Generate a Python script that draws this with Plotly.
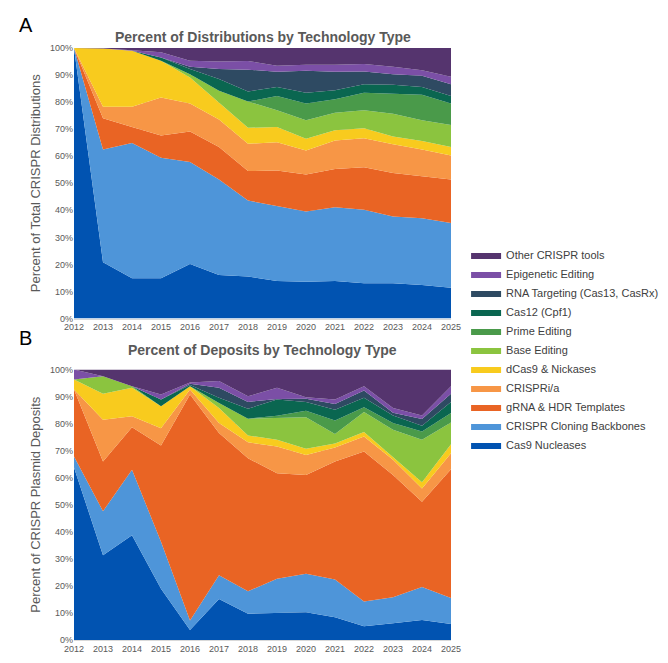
import plotly.graph_objects as go
from plotly.subplots import make_subplots

years = list(range(2012, 2026))

series = ["Cas9 Nucleases", "CRISPR Cloning Backbones", "gRNA & HDR Templates", "CRISPRi/a",
          "dCas9 & Nickases", "Base Editing", "Prime Editing", "Cas12 (Cpf1)",
          "RNA Targeting (Cas13, CasRx)", "Epigenetic Editing", "Other CRISPR tools"]
colors = ["#0153B1", "#4E95D9", "#E96424", "#F79646", "#F8CB1E", "#8BC43F",
          "#4A9A4A", "#0A6650", "#2E4A62", "#7B4FA6", "#55346E"]

# Percent of distributions (chart A)
dist_cas9 = [100, 20.8, 14.9, 14.9, 20.2, 16.1, 15.5, 13.9, 13.6, 13.9, 13.0, 13.0, 12.4, 11.4]
dist_backbone = [0, 41.7, 50.0, 44.5, 37.7, 35.3, 28.1, 27.8, 26.0, 27.2, 27.2, 24.7, 24.7, 23.9]
dist_grna = [0, 11.5, 5.9, 8.3, 11.2, 12.0, 10.9, 13.0, 13.6, 14.2, 15.7, 16.1, 15.5, 16.1]
dist_crispri = [0, 4.3, 7.5, 14.0, 10.4, 10.2, 10.1, 10.5, 8.9, 10.5, 10.7, 10.6, 9.9, 8.9]
dist_dcas9 = [0, 21.5, 20.7, 13.6, 9.6, 6.2, 5.9, 5.6, 4.4, 3.8, 3.7, 2.9, 3.1, 3.1]
dist_base = [0, 0, 0, 0, 1.2, 4.4, 9.7, 6.2, 6.8, 6.5, 6.7, 8.4, 7.7, 8.1]
dist_prime = [0, 0, 0, 0, 0, 0, 0, 5.3, 6.2, 5.0, 6.5, 7.5, 9.4, 8.0]
dist_cas12 = [0, 0, 0, 1.2, 1.9, 4.3, 3.7, 3.3, 4.0, 3.3, 3.1, 3.2, 2.9, 2.8]
dist_rna = [0, 0, 0, 0, 0.9, 3.7, 8.1, 5.6, 8.1, 6.8, 4.7, 3.9, 4.1, 4.3]
dist_epi = [0, 0, 0.2, 1.9, 2.2, 2.8, 3.2, 2.2, 2.2, 2.6, 2.8, 2.8, 2.1, 2.8]
dist_other = [0, 0.2, 0.8, 1.6, 4.7, 5.0, 4.8, 6.6, 6.2, 6.2, 5.9, 6.9, 8.2, 10.6]

# Percent of deposits (chart B)
dep_cas9 = [63.8, 31.3, 38.7, 18.9, 3.7, 15.2, 9.7, 9.9, 10.3, 8.4, 5.1, 6.2, 7.4, 5.9]
dep_backbone = [4.0, 16.3, 24.2, 17.4, 3.5, 8.7, 8.3, 12.7, 14.2, 14.0, 9.1, 9.6, 12.2, 9.6]
dep_grna = [24.8, 18.4, 15.7, 35.6, 83.5, 52.6, 49.2, 39.0, 36.5, 43.6, 55.5, 45.2, 31.5, 47.6]
dep_crispri = [0, 15.4, 4.1, 6.4, 1.9, 3.7, 5.9, 9.9, 7.4, 5.2, 5.5, 5.6, 4.9, 5.9]
dep_dcas9 = [3.7, 9.6, 10.5, 8.1, 1.2, 5.6, 2.5, 2.5, 2.3, 1.4, 1.7, 0.9, 2.3, 3.4]
dep_base = [0, 6.5, 0.6, 0, 0, 1.8, 6.2, 8.1, 11.6, 3.5, 7.4, 10.2, 15.7, 8.0]
dep_prime = [0, 0, 0, 0, 0, 0, 0, 0.8, 2.4, 5.0, 1.7, 2.5, 3.1, 3.5]
dep_cas12 = [0, 0, 0, 2.5, 0.5, 1.9, 3.7, 6.0, 3.3, 4.0, 3.5, 2.8, 2.1, 4.1]
dep_rna = [0, 0, 0, 0, 0.4, 3.7, 2.5, 0.2, 1.2, 2.1, 2.7, 1.0, 2.5, 3.0]
dep_epi = [3.7, 0, 0, 1.8, 0.5, 2.5, 2.1, 4.1, 0.5, 1.7, 1.6, 1.8, 1.3, 2.8]
dep_other = [0, 2.5, 6.2, 9.3, 4.8, 4.3, 9.9, 6.8, 10.3, 11.1, 6.2, 14.2, 17.0, 6.2]

dist = [dist_cas9, dist_backbone, dist_grna, dist_crispri, dist_dcas9, dist_base,
        dist_prime, dist_cas12, dist_rna, dist_epi, dist_other]
dep = [dep_cas9, dep_backbone, dep_grna, dep_crispri, dep_dcas9, dep_base,
       dep_prime, dep_cas12, dep_rna, dep_epi, dep_other]

fig = make_subplots(rows=2, cols=1, vertical_spacing=0.086)

for i, name in enumerate(series):
    fig.add_trace(go.Scatter(x=years, y=dist[i], name=name, stackgroup="a", mode="lines",
                             line=dict(width=0, color=colors[i]), fillcolor=colors[i],
                             legendgroup=name), row=1, col=1)
    fig.add_trace(go.Scatter(x=years, y=dep[i], name=name, stackgroup="b", mode="lines",
                             line=dict(width=0, color=colors[i]), fillcolor=colors[i],
                             legendgroup=name, showlegend=False), row=2, col=1)

axis_font = dict(size=9, color="#595959")
fig.update_xaxes(tickvals=years, range=[2012, 2025], showgrid=False, tickfont=axis_font,
                 showline=True, linecolor="#d9d9d9")
fig.update_yaxes(range=[0, 100], dtick=10, ticksuffix="%", gridcolor="#d9d9d9",
                 tickfont=axis_font, zeroline=False, title_standoff=6)
fig.update_yaxes(title_text="Percent of Total CRISPR Distributions", row=1, col=1)
fig.update_yaxes(title_text="Percent of CRISPR Plasmid Deposits", row=2, col=1)

fig.update_layout(
    width=668, height=663,
    margin=dict(l=66, r=202, t=40, b=31),
    plot_bgcolor="white", paper_bgcolor="white",
    font=dict(family="Liberation Sans", size=10.5, color="#595959"),
    legend=dict(x=1.04, y=0.49, yanchor="middle", traceorder="reversed",
                font=dict(size=11, color="#404040"), tracegroupgap=0, itemwidth=30),
    annotations=[
        dict(text="<b>Percent of Distributions by Technology Type</b>", x=0.5, y=1.035,
             xref="paper", yref="paper", showarrow=False, font=dict(size=14, color="#595959")),
        dict(text="<b>Percent of Deposits by Technology Type</b>", x=0.5, y=0.49,
             xref="paper", yref="paper", showarrow=False, font=dict(size=14, color="#595959")),
        dict(text="A", x=-0.15, y=1.06, xref="paper", yref="paper", showarrow=False,
             font=dict(size=20, color="black")),
        dict(text="B", x=-0.15, y=0.51, xref="paper", yref="paper", showarrow=False,
             font=dict(size=20, color="black")),
    ],
)

fig.write_html("out.html")
